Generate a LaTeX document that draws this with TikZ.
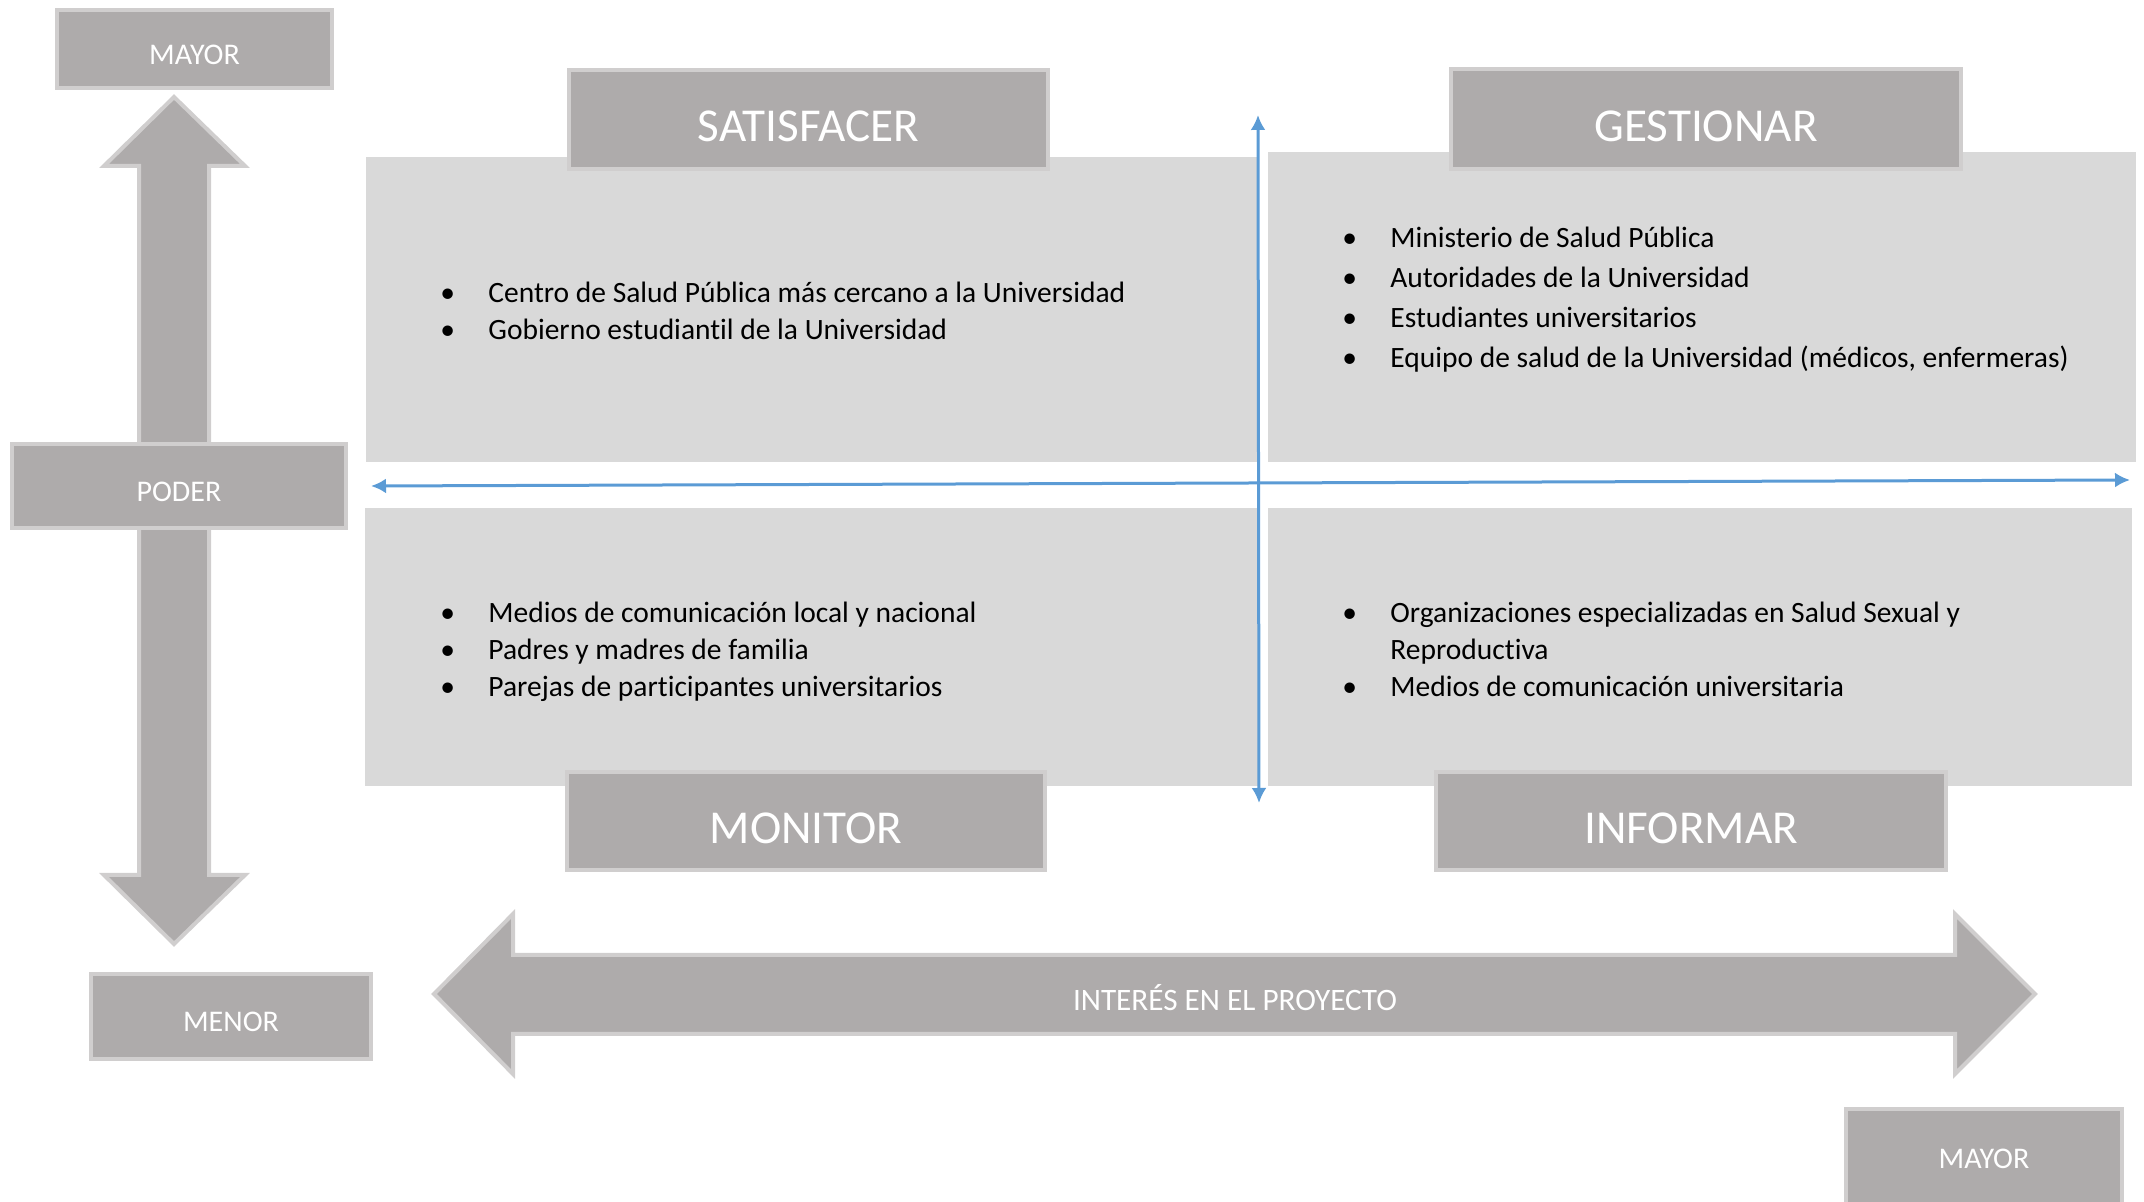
\documentclass[tikz,border=0pt]{standalone}
\usepackage{fontspec}
\setmainfont{Carlito}[Ligatures=NoCommon]
\usetikzlibrary{positioning,arrows.meta}
\definecolor{boxgray}{HTML}{AEABAB}
\definecolor{rimgray}{HTML}{D0CECE}
\definecolor{quadgray}{HTML}{D9D9D9}
\definecolor{axisblue}{HTML}{5B9BD5}
\newcommand{\itm}[1]{\makebox[24pt][l]{\textbullet}#1}

\begin{document}
\begin{tikzpicture}[x=0.5pt,y=-0.5pt,
    tag node/.style={draw=rimgray,fill=boxgray,line width=2pt,inner sep=0pt,text=white,
        font=\fontsize{15}{18}\selectfont,text height=15.1pt,text depth=0pt},
    head node/.style={tag node,font=\fontsize{23.6}{28}\selectfont,text height=22.2pt},
    quad/.style={fill=quadgray},
    list node/.style={anchor=base west,align=left,inner sep=0pt},
    axis/.style={draw=axisblue,line width=1.5pt,{Latex[length=7.5pt,width=7.5pt]}-{Latex[length=7.5pt,width=7.5pt]}},
    big arrow/.style={draw=rimgray,fill=boxgray,line width=2pt,line join=miter}]

    \useasboundingbox (0,0) rectangle (2144,1202);

    % quadrants
    \fill[quad] (366,157) rectangle (1258,462);
    \fill[quad] (1268,152) rectangle (2136,462);
    \fill[quad] (365,508) rectangle (1258,786);
    \fill[quad] (1268,508) rectangle (2132,786);

    % power arrow
    \draw[big arrow] (174,97) -- (245,166) -- (209,166) -- (209,875) -- (245,875)
        -- (174,944) -- (104,875) -- (139,875) -- (139,166) -- (104,166) -- cycle;
    % interest arrow
    \draw[big arrow] (434,994) -- (513,914) -- (513,955) -- (1955,955) -- (1955,914)
        -- (2035,994) -- (1955,1074) -- (1955,1034) -- (513,1034) -- (513,1074) -- cycle;
    \node[text=white,font=\fontsize{15.6}{18}\selectfont] (interes) at (1235,998) {INTERÉS EN EL PROYECTO};

    % labels
    \node[tag node,minimum width=137.5pt,minimum height=39pt] (mayorv) at (194.5,49) {MAYOR};
    \node[tag node,minimum width=167pt,minimum height=42pt] (poder) at (179,486) {PODER};
    \node[tag node,minimum width=140pt,minimum height=42.5pt] (menor) at (231,1016.5) {MENOR};
    \node[tag node,minimum width=138pt,minimum height=50pt,text height=10pt] (mayorh) at (1984,1159) {MAYOR};

    \node[head node,minimum width=239.5pt,minimum height=49.5pt] (satisfacer) at (808.5,119.5) {SATISFACER};
    \node[head node,minimum width=255pt,minimum height=50pt] (gestionar) at (1706,119) {GESTIONAR};
    \node[head node,minimum width=239pt,minimum height=49pt] (monitor) at (806,821) {MONITOR};
    \node[head node,minimum width=255pt,minimum height=49pt] (informar) at (1691,821) {INFORMAR};

    % axes
    \coordinate (ytop) at (1258,115);
    \coordinate (ybot) at (1259,803);
    \coordinate (xleft) at (371,486);
    \coordinate (xright) at (2130,480);
    \draw[axis] (xleft) -- (xright);
    \draw[axis] (ytop) -- (ybot);

    % stakeholders (anchored on the last baseline)
    \node[list node,font=\fontsize{14.75}{18.5}\selectfont] (satlist) at (440,340) {%
        \itm{Centro de Salud Pública más cercano a la Universidad}\\
        \itm{Gobierno estudiantil de la Universidad}};
    \node[list node,font=\fontsize{14.75}{20}\selectfont] (gestlist) at (1342,368) {%
        \itm{Ministerio de Salud Pública}\\
        \itm{Autoridades de la Universidad}\\
        \itm{Estudiantes universitarios}\\
        \itm{Equipo de salud de la Universidad (médicos, enfermeras)}};
    \node[list node,font=\fontsize{14.75}{18.5}\selectfont] (monlist) at (440,697) {%
        \itm{Medios de comunicación local y nacional}\\
        \itm{Padres y madres de familia}\\
        \itm{Parejas de participantes universitarios}};
    \node[list node,font=\fontsize{14.75}{18.5}\selectfont] (inflist) at (1342,697) {%
        \itm{Organizaciones especializadas en Salud Sexual y}\\
        \hspace*{24pt}Reproductiva\\
        \itm{Medios de comunicación universitaria}};

\end{tikzpicture}
\end{document}
